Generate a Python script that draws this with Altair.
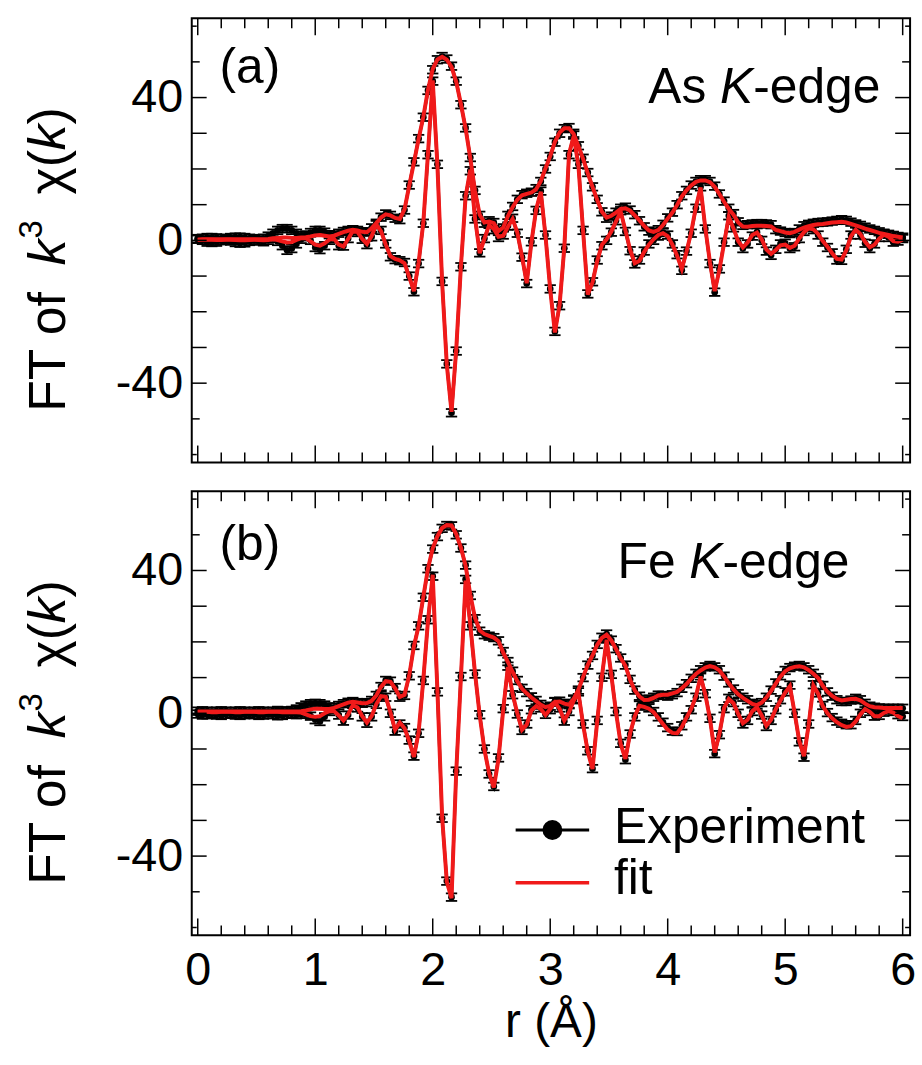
import altair as alt
import pandas as pd

# r grid of the Fourier transform (Å)
R = [round(i * 0.04, 2) for i in range(151)]

# ---------------- panel (a): As K-edge ----------------
A_EXP_IM = [
    0.3, 0.0, -0.5, -0.6, -0.5, -0.1, 0.2, -0.2, -0.6, -0.8,
    -0.7, -0.3, 0.0, -0.2, -0.4, 0.0, 0.5, -0.3, -1.5, -2.8,
    -2.3, -1.0, 0.3, 1.0, 0.0, -2.0, -2.6, -1.5, 0.0, 0.5,
    -1.5, -1.6, 0.5, 2.7, 2.2, 0.3, -1.2, 1.0, 4.4, 2.8,
    -1.0, -4.6, -5.4, -5.7, -6.2, -10.0, -14.4, -6.5, 4.8, 24.0,
    44.6, 21.3, -11.5, -34.6, -48.3, -31.0, -7.4, 12.5, 19.5, 6.0,
    -3.5, 0.5, 4.5, 3.0, 0.8, 1.5, 4.0, 6.2, 2.0, -4.7,
    -12.1, -0.4, 8.4, 13.8, 1.5, -13.6, -25.5, -18.3, -2.2, 24.0,
    29.5, 21.3, 2.8, -15.0, -11.6, -5.5, -1.5, 0.0, 2.3, 5.5,
    8.3, 2.5, -2.9, -6.6, -5.5, -3.0, -1.0, 0.0, 1.2, 2.2,
    1.5, -1.0, -4.0, -8.4, -3.0, 2.0, 9.0, 15.0, 3.2, -6.5,
    -14.5, -8.0, -0.5, 6.9, 3.5, -0.5, -2.3, -1.0, 1.2, 2.3,
    0.0, -3.0, -4.2, -2.5, -1.0, -0.8, -2.3, -1.8, 0.5, 2.5,
    3.6, 3.0, 1.5, -0.5, -2.0, -3.5, -5.5, -5.6, -2.5, 1.5,
    3.2, 1.5, -0.8, -2.3, -1.0, 0.8, 1.9, 0.8, -0.5, -0.2,
    0.5]
A_EXP_MAG = [
    0.5, 0.6, 0.8, 0.8, 0.7, 0.5, 0.6, 0.8, 0.9, 0.9,
    0.8, 0.6, 0.4, 0.5, 0.6, 1.2, 2.0, 2.8, 3.3, 3.3,
    2.8, 2.0, 1.4, 1.5, 2.2, 2.8, 2.8, 2.3, 1.6, 1.5,
    2.0, 2.5, 2.8, 3.0, 2.8, 2.4, 2.4, 3.5, 4.8, 6.5,
    7.4, 7.0, 6.2, 5.8, 8.5, 15.5, 22.0, 28.5, 34.5, 42.0,
    47.8, 50.6, 51.5, 50.8, 48.8, 44.6, 38.0, 31.5, 23.2, 14.0,
    7.0, 4.8, 5.5, 5.0, 2.5, 3.5, 7.0, 9.5, 11.5, 12.8,
    13.2, 13.5, 14.5, 16.5, 20.0, 23.5, 27.5, 30.0, 31.3, 31.6,
    30.0, 26.5, 23.0, 19.0, 15.0, 11.5, 8.0, 6.2, 6.8, 7.9,
    9.0, 9.3, 8.5, 7.2, 5.5, 3.8, 2.6, 2.3, 3.0, 4.5,
    6.3, 7.9, 10.0, 12.5, 14.0, 15.5, 16.5, 17.0, 17.0, 16.5,
    15.2, 13.0, 11.0, 9.0, 7.5, 5.2, 4.2, 4.4, 4.6, 4.7,
    4.7, 4.6, 4.4, 3.0, 2.6, 2.2, 1.9, 2.2, 3.2, 4.1,
    4.5, 4.8, 5.0, 5.1, 5.2, 5.4, 5.6, 5.8, 5.6, 5.1,
    4.6, 4.2, 3.7, 3.2, 2.8, 2.4, 2.0, 1.7, 1.4, 1.1,
    0.9]
A_FIT_IM = [
    0.2, 0.2, 0.2, 0.2, 0.1, 0.1, 0.2, 0.2, 0.1, 0.0,
    0.0, 0.1, 0.2, 0.1, 0.0, 0.1, 0.3, 0.1, -0.3, -0.6,
    -0.5, 0.1, 0.6, 0.6, -0.3, -1.2, -1.5, -0.8, 0.2, 0.4,
    -1.2, -1.7, 0.4, 2.6, 2.3, 0.4, -1.0, 1.2, 4.5, 2.6,
    -1.2, -4.4, -5.2, -5.6, -6.4, -10.3, -14.2, -6.2, 5.0, 24.5,
    44.8, 21.0, -11.8, -34.9, -48.0, -30.6, -7.2, 12.3, 19.8, 6.3,
    -3.6, 0.4, 4.3, 3.2, 1.0, 1.3, 3.8, 6.0, 2.2, -4.5,
    -12.0, -0.6, 8.6, 13.6, 1.2, -13.8, -25.8, -18.0, -2.0, 24.2,
    29.2, 21.0, 2.5, -15.2, -11.8, -5.8, -1.2, 0.3, 2.5, 5.3,
    8.0, 2.8, -2.6, -6.4, -5.7, -3.2, -1.2, 0.3, 1.5, 2.0,
    1.2, -1.2, -4.3, -8.0, -3.2, 2.3, 9.3, 14.8, 3.5, -6.2,
    -14.2, -8.3, -0.8, 6.6, 3.3, -0.2, -2.0, -0.6, 1.5, 2.2,
    0.3, -2.6, -3.8, -2.7, -1.4, -1.2, -2.1, -1.5, 0.6, 2.3,
    3.4, 3.1, 1.8, -0.2, -1.8, -3.6, -5.2, -5.4, -2.8, 1.2,
    3.0, 1.8, -0.4, -1.9, -1.2, 0.5, 1.6, 1.0, -0.2, -0.4,
    0.2]
A_FIT_MAG = [
    0.2, 0.3, 0.3, 0.3, 0.3, 0.3, 0.3, 0.3, 0.3, 0.3,
    0.3, 0.3, 0.3, 0.3, 0.3, 0.4, 0.6, 0.7, 0.8, 0.8,
    0.7, 0.7, 0.8, 0.9, 1.1, 1.4, 1.5, 1.3, 1.1, 1.3,
    1.8, 2.3, 2.7, 3.0, 2.8, 2.4, 2.3, 3.4, 4.8, 6.4,
    7.3, 7.0, 6.3, 6.0, 8.7, 15.3, 21.8, 28.4, 34.6, 42.2,
    48.0, 50.7, 51.4, 50.6, 48.6, 44.4, 38.2, 31.3, 23.0, 13.8,
    7.2, 5.0, 5.3, 4.8, 2.6, 3.6, 6.8, 9.3, 11.4, 12.6,
    13.0, 13.4, 14.3, 16.6, 20.2, 23.6, 27.6, 30.2, 31.4, 31.4,
    29.8, 26.4, 22.8, 18.8, 15.0, 11.3, 8.0, 6.4, 6.9, 7.8,
    8.8, 9.0, 8.3, 7.0, 5.6, 4.0, 2.8, 2.4, 2.9, 4.3,
    6.1, 7.8, 9.9, 12.3, 14.0, 15.4, 16.4, 16.8, 16.8, 16.3,
    15.0, 13.0, 10.8, 8.8, 7.2, 5.0, 3.9, 3.8, 4.0, 4.1,
    4.1, 4.0, 3.9, 2.9, 2.6, 2.2, 2.0, 2.4, 3.0, 3.6,
    4.0, 4.3, 4.5, 4.6, 4.8, 5.0, 5.1, 5.2, 5.0, 4.6,
    4.2, 3.8, 3.3, 2.9, 2.5, 2.1, 1.8, 1.5, 1.2, 1.0,
    0.8]

# ---------------- panel (b): Fe K-edge ----------------
B_EXP_IM = [
    -0.2, -0.5, -0.4, -0.2, -0.5, -0.6, -0.3, -0.2, -0.5, -0.6,
    -0.4, -0.2, -0.4, -0.6, -0.5, -0.3, -0.4, -0.7, -0.6, -0.3,
    -0.2, -0.4, -0.3, -0.3, -0.8, -1.8, -2.3, -1.0, 0.5, 1.0,
    -0.5, -2.2, -0.5, 2.5, 1.5, -1.0, -2.8, -1.0, 2.5, 5.0,
    4.5, 0.0, -5.0, -3.0, -4.0, -7.5, -12.0, -5.6, 9.2, 26.2,
    38.4, 6.0, -29.4, -47.0, -51.5, -16.2, 10.3, 37.5, 24.5, 11.0,
    -0.4, -10.0, -17.0, -20.5, -12.5, 1.3, 13.2, 5.2, -0.2, -4.8,
    -3.0, 1.0, 2.3, 1.5, -0.3, 1.0, 3.2, 1.5, -2.2, 0.5,
    3.8, 6.0, -3.0, -10.5, -15.5, -2.0, 10.1, 20.8, 10.9, 0.5,
    -8.4, -13.0, -5.8, -1.0, 2.3, 2.0, 1.5, 0.5, -1.0, -2.5,
    -4.0, -5.0, -5.1, -3.5, -1.0, 1.0, 4.5, 10.5, 5.5, -1.4,
    -11.3, -6.0, 1.3, 4.2, 3.0, 0.0, -3.0, -2.0, 0.5, 1.9,
    -0.5, -3.7, -2.0, 1.0, 3.8, 6.0, 7.9, 0.0, -8.0, -12.3,
    -3.0, 8.0, 5.7, 2.2, 0.2, -1.2, -2.2, -2.8, -3.2, -3.2,
    -2.0, 0.0, 1.4, 0.5, -0.8, -0.6, 0.3, 0.9, 0.5, -0.4,
    -0.9]
B_EXP_MAG = [
    0.6, 0.7, 0.6, 0.5, 0.6, 0.7, 0.6, 0.5, 0.6, 0.7,
    0.6, 0.5, 0.6, 0.7, 0.6, 0.5, 0.6, 0.8, 0.7, 0.6,
    0.8, 1.2, 1.8, 2.3, 2.7, 2.8, 2.7, 2.3, 1.8, 1.7,
    2.2, 2.7, 3.1, 3.3, 3.0, 2.8, 3.0, 3.6, 5.0, 7.5,
    9.2, 9.0, 7.2, 4.5, 5.0, 10.5, 19.0, 24.5, 32.5, 40.5,
    46.0, 49.5, 51.8, 52.6, 52.5, 50.0, 46.3, 41.5, 33.0, 26.5,
    23.0, 22.0, 21.6, 21.2, 20.3, 17.3, 14.5, 11.8, 9.2, 7.0,
    5.8, 4.6, 3.6, 2.5, 1.6, 2.0, 3.3, 3.4, 2.8, 2.4,
    4.0, 6.5, 10.0, 13.5, 16.2, 19.3, 21.3, 22.2, 20.5, 18.1,
    15.5, 13.5, 9.5, 6.5, 4.8, 3.8, 4.0, 4.5, 5.1, 5.0,
    4.8, 5.2, 5.8, 7.0, 8.3, 9.8, 11.2, 12.2, 13.0, 13.4,
    13.0, 12.2, 10.4, 8.5, 6.8, 5.5, 4.5, 3.8, 2.8, 2.4,
    3.0, 4.5, 6.5, 8.5, 10.5, 12.0, 12.8, 13.2, 13.4, 13.0,
    12.2, 11.2, 10.0, 7.8, 6.0, 4.8, 3.8, 3.3, 3.3, 3.7,
    4.2, 3.8, 2.8, 2.0, 1.7, 1.5, 1.4, 1.4, 1.4, 1.4,
    1.4]
B_FIT_IM = [
    0.4, 0.4, 0.4, 0.3, 0.3, 0.4, 0.4, 0.4, 0.3, 0.3,
    0.4, 0.4, 0.4, 0.3, 0.3, 0.4, 0.4, 0.4, 0.3, 0.3,
    0.3, 0.3, 0.2, -0.3, -0.8, -1.0, -0.8, 0.0, 0.6, 0.6,
    -0.6, -2.0, -0.3, 2.3, 1.6, -0.8, -2.6, -0.8, 2.6, 4.8,
    4.6, 0.3, -4.6, -2.6, -4.2, -7.8, -12.2, -5.3, 9.5, 26.0,
    38.8, 6.4, -29.0, -47.2, -51.8, -16.5, 10.0, 37.2, 24.8, 11.3,
    -0.6, -10.2, -16.8, -20.8, -12.8, 1.0, 13.0, 5.4, 0.0, -4.6,
    -3.2, 0.8, 2.0, 1.2, -0.5, 1.2, 3.0, 1.3, -2.0, 0.3,
    3.5, 5.8, -3.2, -10.8, -15.6, -2.3, 10.3, 20.6, 10.7, 0.3,
    -8.6, -12.8, -5.6, -0.8, 2.1, 1.8, 1.3, 0.3, -1.3, -3.0,
    -4.6, -5.5, -5.6, -3.8, -1.2, 1.2, 4.7, 10.3, 5.3, -1.6,
    -11.0, -5.8, 1.5, 4.0, 2.8, -0.2, -2.8, -1.8, 0.6, 1.7,
    -0.6, -3.5, -1.8, 1.2, 3.6, 5.8, 7.6, 0.2, -7.8, -12.0,
    -3.2, 7.8, 5.5, 2.0, 0.0, -1.4, -2.5, -3.3, -3.8, -3.6,
    -2.3, -0.3, 1.2, 0.4, -0.8, -0.8, 0.1, 0.6, 0.2, -0.8,
    -1.4]
B_FIT_MAG = [
    0.5, 0.5, 0.5, 0.5, 0.5, 0.5, 0.5, 0.5, 0.5, 0.5,
    0.5, 0.5, 0.5, 0.5, 0.5, 0.5, 0.5, 0.5, 0.5, 0.5,
    0.5, 0.5, 0.6, 0.8, 1.1, 1.3, 1.3, 1.2, 1.2, 1.5,
    2.0, 2.5, 3.0, 3.2, 3.0, 2.8, 2.9, 3.5, 5.0, 7.4,
    9.0, 8.8, 7.0, 4.6, 5.2, 10.6, 18.8, 24.4, 32.6, 40.6,
    46.2, 49.6, 51.9, 52.7, 52.6, 50.2, 46.4, 41.3, 33.2, 26.7,
    23.2, 22.2, 21.7, 21.2, 20.2, 17.0, 14.3, 11.6, 9.0, 6.9,
    5.6, 4.4, 3.4, 2.4, 1.7, 2.1, 3.2, 3.3, 2.7, 2.4,
    4.1, 6.6, 10.2, 13.6, 16.2, 19.2, 21.1, 22.0, 20.4, 18.0,
    15.4, 13.3, 9.4, 6.4, 4.7, 3.7, 3.8, 4.3, 5.0, 5.2,
    5.2, 5.6, 6.0, 7.0, 8.2, 9.7, 11.0, 12.0, 12.8, 13.2,
    12.9, 12.0, 10.3, 8.4, 6.7, 5.3, 4.3, 3.5, 2.6, 2.3,
    3.0, 4.4, 6.3, 8.3, 10.3, 11.8, 12.6, 13.0, 13.2, 12.9,
    12.1, 11.1, 9.9, 7.7, 6.0, 4.9, 4.0, 3.6, 3.8, 4.0,
    4.1, 3.6, 2.7, 2.0, 1.7, 1.6, 1.5, 1.5, 1.5, 1.5,
    1.5]

# ---------------- axes / ticks ----------------
X_LABELS = [0, 1, 2, 3, 4, 5, 6]
X_MINOR = [0.2, 0.4, 0.6, 0.8, 1.2, 1.4, 1.6, 1.8, 2.2, 2.4, 2.6, 2.8,
           3.2, 3.4, 3.6, 3.8, 4.2, 4.4, 4.6, 4.8, 5.2, 5.4, 5.6, 5.8]
Y_LABELS = [-40, 0, 40]
Y_LONG = [-40, -30, -20, -10, 0, 10, 20, 30, 40]
Y_MID = [-50, 50]
Y_SHORT = [-60, 60]

XMIN, XMAX = -0.051, 6.063
YMIN, YMAX = -62.2, 62.2
W, H = 723, 447
FONT = "Liberation Sans"
RED = "#f01a1a"

xs = alt.Scale(domain=[XMIN, XMAX], nice=False, zero=False)
ys = alt.Scale(domain=[YMIN, YMAX], nice=False, zero=False)


def long_df(exp_im, exp_mag, fit_im, fit_mag):
    frames = []
    for kind, part, vals in [("exp", "im", exp_im), ("exp", "mag", exp_mag),
                             ("fit", "im", fit_im), ("fit", "mag", fit_mag)]:
        frames.append(pd.DataFrame({"r": R, "v": vals, "kind": kind, "part": part}))
    return pd.concat(frames, ignore_index=True)


def text_layer(s, x, y, size, style="normal", align="left", angle=0):
    return alt.Chart(pd.DataFrame({"s": [s]})).mark_text(
        font=FONT, fontSize=size, fontStyle=style, align=align,
        baseline="alphabetic", angle=angle, color="black"
    ).encode(x=alt.value(x), y=alt.value(y), text="s:N")


def ytitle_layers():
    b = -128
    pieces = [("FT of", 396, "normal", 52, b),
              ("k", 248.6, "italic", 52, b),
              ("3", 221.6, "normal", 33, -151),
              ("χ(", 177.3, "normal", 52, b),
              ("k", 132.9, "italic", 52, b),
              (")", 106.9, "normal", 52, b)]
    return [text_layer(s, x, y, size, style, "left", 270)
            for s, y, style, size, x in pieces]


def edge_layers(elem, right, base):
    w_edge = 2.557 * 50
    w_k = 0.667 * 50
    sp = 0.278 * 50
    return [text_layer("-edge", right, base, 50, "normal", "right"),
            text_layer("K", right - w_edge, base, 50, "italic", "right"),
            text_layer(elem, right - w_edge - w_k - sp, base, 50, "normal", "right")]


def panel(df, label, label_base, elem, edge_right, edge_base, bottom_axis, legend):
    if bottom_axis:
        xaxis = alt.Axis(values=X_LABELS, ticks=False, tickSize=0, domain=False, grid=False,
                         labelFont=FONT, labelFontSize=47, labelPadding=12, labelFlush=False,
                         labelColor="black", format="d",
                         title="r (Å)", titleFont=FONT, titleFontSize=48,
                         titleFontWeight="normal", titlePadding=6, titleColor="black")
    else:
        xaxis = None
    yaxis = alt.Axis(values=Y_LABELS, ticks=False, tickSize=0, domain=False, grid=False,
                     labelFont=FONT, labelFontSize=47, labelPadding=9, labelColor="black",
                     title=None,
                     labelExpr="datum.value < 0 ? '-' + abs(datum.value) : '' + datum.value")
    X = alt.X("r:Q", scale=xs, axis=xaxis)
    Y = alt.Y("v:Q", scale=ys, axis=yaxis)

    base = alt.Chart(df)
    exp = base.transform_filter(alt.datum.kind == "exp")
    fit = base.transform_filter(alt.datum.kind == "fit")

    layers = [
        exp.mark_line(color="black", strokeWidth=3).encode(X, Y, detail="part:N"),
        exp.mark_point(shape="stroke", size=130, strokeWidth=1.8, color="black",
                       opacity=1, yOffset=-3.8).encode(X, Y),
        exp.mark_point(shape="stroke", size=130, strokeWidth=1.8, color="black",
                       opacity=1, yOffset=3.8).encode(X, Y),
        exp.mark_circle(color="black", size=45, opacity=1).encode(X, Y),
        fit.mark_line(color=RED, strokeWidth=4).encode(X, Y, detail="part:N"),
    ]

    # inward ticks
    xmaj = alt.Chart(pd.DataFrame({"r": X_LABELS}))
    xmin = alt.Chart(pd.DataFrame({"r": X_MINOR}))
    for src, L in [(xmaj, 17), (xmin, 10)]:
        layers.append(src.mark_rule(color="black", strokeWidth=1.5).encode(
            x=X, y=alt.value(0), y2=alt.value(L)))
        layers.append(src.mark_rule(color="black", strokeWidth=1.5).encode(
            x=X, y=alt.value(H), y2=alt.value(H - L)))
    for vals, L in [(Y_LONG, 15), (Y_MID, 8), (Y_SHORT, 5)]:
        src = alt.Chart(pd.DataFrame({"v": vals}))
        layers.append(src.mark_rule(color="black", strokeWidth=1.5).encode(
            y=Y, x=alt.value(0), x2=alt.value(L)))
        layers.append(src.mark_rule(color="black", strokeWidth=1.5).encode(
            y=Y, x=alt.value(W), x2=alt.value(W - L)))

    layers.append(text_layer(label, 28, label_base, 50))
    layers += edge_layers(elem, edge_right, edge_base)
    layers += ytitle_layers()

    if legend:
        one = alt.Chart(pd.DataFrame({"s": ["x"]}))
        layers.append(one.mark_rule(color="black", strokeWidth=3).encode(
            x=alt.value(326), x2=alt.value(400), y=alt.value(341)))
        layers.append(one.mark_point(shape="circle", filled=True, color="black",
                                     size=400, opacity=1).encode(
            x=alt.value(363), y=alt.value(341)))
        layers.append(text_layer("Experiment", 425, 354, 50))
        layers.append(one.mark_rule(color=RED, strokeWidth=3.5).encode(
            x=alt.value(326), x2=alt.value(400), y=alt.value(394)))
        layers.append(text_layer("fit", 425, 405, 50))

    return alt.layer(*layers).properties(width=W, height=H)


pa = panel(long_df(A_EXP_IM, A_EXP_MAG, A_FIT_IM, A_FIT_MAG),
           "(a)", 65, "As", 693, 85, False, False)
pb = panel(long_df(B_EXP_IM, B_EXP_MAG, B_FIT_IM, B_FIT_MAG),
           "(b)", 69, "Fe", 662, 87, True, True)

chart = alt.vconcat(pa, pb, spacing=25).properties(
    padding={"left": 15, "top": 13, "right": 5, "bottom": 5},
    background="white",
).configure_view(stroke="black", strokeWidth=2)

chart.save("out.html", embed_options={"renderer": "svg", "actions": False})
